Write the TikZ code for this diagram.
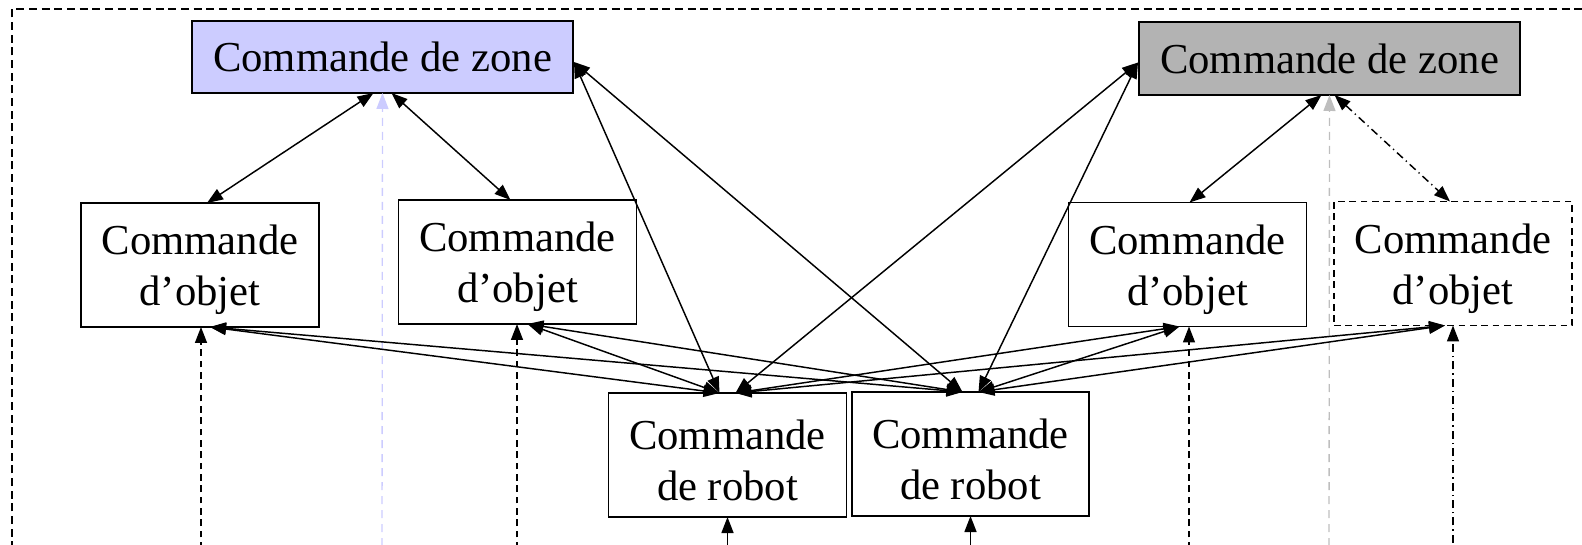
\documentclass[tikz,border=0pt]{standalone}
\usepackage{fontspec}
\setmainfont{Liberation Serif}
\usetikzlibrary{arrows.meta,calc}
\definecolor{zoneblue}{HTML}{CCCCFF}
\definecolor{zonegray}{HTML}{B3B3B3}
\newcommand{\topstrut}{\rule{0pt}{30pt}}
\begin{document}
\begin{tikzpicture}[x=0.75pt,y=-0.75pt,
  box/.style={draw,line width=0.9pt,inner sep=0pt,outer sep=0pt,align=center,
    font=\fontsize{32}{38.25}\selectfont,minimum width=178.5pt,minimum height=93pt},
  zonebox/.style={draw,line width=1.1pt,inner sep=0pt,outer sep=0pt,align=center,
    font=\fontsize{32}{38.25}\selectfont,minimum width=285.75pt,minimum height=54pt},
  link/.style={line width=1.1pt,{Triangle[length=12pt,width=9pt]}-{Triangle[length=12pt,width=9pt]}},
  uplink/.style={line width=1.1pt,-{Triangle[length=12pt,width=9pt]}},
  blackdash/.style={dash pattern=on 5pt off 3.5pt},
  dashdotline/.style={dash pattern=on 6pt off 3pt on 1pt off 3pt},
  border/.style={line width=0.9pt,dash pattern=on 6pt off 3.5pt},
  guide/.style={line width=1pt,dash pattern=on 6pt off 4.5pt}]
\useasboundingbox (0,0) rectangle (1582,545);
\clip (0,0) rectangle (1582,545);

\draw[border] (12,600) -- (12,9) -- (1650,9);

% nodes
\node[zonebox,fill=zoneblue] (zone1) at (382.5,57) {Commande de zone};
\node[zonebox,fill=zonegray,minimum height=54.75pt] (zone2) at (1329.5,58.5) {Commande de zone};
\node[box] (obj1) at (200,265) {\topstrut Commande\\d’objet};
\node[box] (obj2) at (517.5,262) {\topstrut Commande\\d’objet};
\node[box] (obj3) at (1187.5,264.5) {\topstrut Commande\\d’objet};
\node[box,dash pattern=on 5pt off 3.5pt] (obj4) at (1453,263.5) {\topstrut Commande\\d’objet};
\node[box] (rob1) at (727.5,455) {\topstrut Commande\\de robot};
\node[box,line width=1.2pt,minimum width=177.75pt] (rob2) at (970.5,454) {\topstrut Commande\\de robot};

% guide lines from below
\coordinate (gz1) at (382,560);
\coordinate (gz2) at (1329,560);
\draw[guide,color=zoneblue,-{Triangle[length=12pt,width=9pt]}] (gz1) -- (zone1.south);
\draw[guide,color=zonegray!85,-{Triangle[length=12pt,width=9pt]}] (gz2) -- (zone2.south);

% endpoints
\coordinate (z1e) at ($(zone1.east)+(1,5)$);
\coordinate (z2w) at ($(zone2.west)+(-1,4)$);
\coordinate (r1l) at ($(rob1.north)+(-8,0)$);
\coordinate (r1r) at ($(rob1.north)+(8,0)$);
\coordinate (r2l) at ($(rob2.north)+(-8,0)$);
\coordinate (r2r) at ($(rob2.north)+(8,0)$);
\coordinate (o1b) at ($(obj1.south)+(10,0)$);
\coordinate (o2b) at ($(obj2.south)+(10,0)$);
\coordinate (o3b) at ($(obj3.south)+(-8,0)$);
\coordinate (o4b) at ($(obj4.south)+(-8,0)$);

% zone to objects
\draw[link] ($(zone1.south)+(-9,0)$) -- ($(obj1.north)+(7,0)$);
\draw[link] ($(zone1.south)+(9,0)$) -- ($(obj2.north)+(-7,0)$);
\draw[link] ($(zone2.south)+(-8,0)$) -- ($(obj3.north)+(2,0)$);
\draw[link,dashdotline] ($(zone2.south)+(5,0)$) -- ($(obj4.north)+(-3,0)$);

% zone to robots
\draw[link] (z1e) -- (r1l);
\draw[link] (z1e) -- (r2l);
\draw[link] (z2w) -- (r1r);
\draw[link] (z2w) -- (r2r);

% objects to robots
\draw[link] (o1b) -- (r1l);
\draw[link] (o1b) -- (r2l);
\draw[link] (o2b) -- (r1l);
\draw[link] (o2b) -- (r2l);
\draw[link] (o3b) -- (r1r);
\draw[link] (o3b) -- (r2r);
\draw[link] (o4b) -- (r1r);
\draw[link] (o4b) -- (r2r);

% vertical inputs from below
\coordinate (b1) at (201,560);
\coordinate (b2) at (517,560);
\coordinate (b3) at (1189,560);
\coordinate (b4) at (1453,560);
\coordinate (b5) at (727.5,560);
\coordinate (b6) at (970.5,560);
\draw[uplink,blackdash] (b1) -- ($(obj1.south)+(1,0)$);
\draw[uplink,blackdash] (b2) -- ($(obj2.south)+(-0.5,0)$);
\draw[uplink,blackdash] (b3) -- ($(obj3.south)+(1.5,0)$);
\draw[uplink,dashdotline] (b4) -- (obj4.south);
\draw[uplink] (b5) -- (rob1.south);
\draw[uplink] (b6) -- (rob2.south);
\end{tikzpicture}
\end{document}
